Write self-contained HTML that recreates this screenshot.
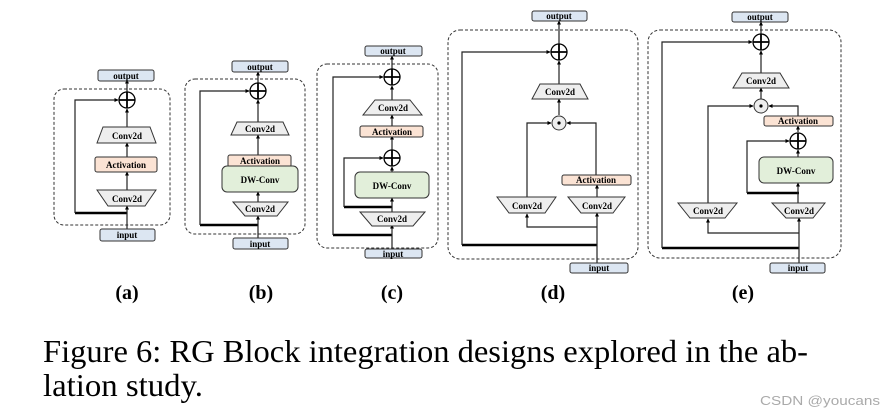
<!DOCTYPE html>
<html><head><meta charset="utf-8"><style>
html,body{margin:0;padding:0;background:#fff;width:885px;height:415px;overflow:hidden}
svg{display:block}
.l{font-family:"Liberation Serif",serif;font-weight:bold;font-size:9px;fill:#000;text-anchor:middle}
.io{fill:#dce6f2;stroke:#333;stroke-width:1}
.cv{fill:#eeeeee;stroke:#333;stroke-width:1}
.ac{fill:#fbe3d4;stroke:#333;stroke-width:1}
.dw{fill:#e2efda;stroke:#333;stroke-width:1}
.ln{stroke:#222;stroke-width:1.2;fill:none}
.th{stroke:#000;stroke-width:2.6;fill:none}
.ds{fill:none;stroke:#333;stroke-width:1;stroke-dasharray:3,2}
.cp{fill:#fff;stroke:#000;stroke-width:1.3}
.od{fill:#eee;stroke:#333;stroke-width:1}
</style></head><body>
<svg width="885" height="415" viewBox="0 0 885 415" xmlns="http://www.w3.org/2000/svg">
<defs><marker id="a" markerWidth="4" markerHeight="4" refX="3.5" refY="2" orient="auto" markerUnits="userSpaceOnUse"><path d="M0,0 L4,2 L0,4z" fill="#000"/></marker></defs>

<!-- (a) -->
<rect class="ds" x="54" y="89" width="116" height="136" rx="10"/>
<polyline class="th" points="127,213 75,213"/>
<polyline class="ln" points="75,213 75,100 118,100" marker-end="url(#a)"/>
<line class="ln" x1="127" y1="229" x2="127" y2="206" marker-end="url(#a)"/>
<line class="ln" x1="127" y1="190" x2="127" y2="172" marker-end="url(#a)"/>
<line class="ln" x1="127" y1="157" x2="127" y2="143" marker-end="url(#a)"/>
<line class="ln" x1="127" y1="127" x2="127" y2="109" marker-end="url(#a)"/>
<line class="ln" x1="127" y1="92" x2="127" y2="80" marker-end="url(#a)"/>
<rect class="io" x="98" y="70" width="56" height="11" rx="2"/><text class="l" x="126" y="79">output</text>
<circle class="cp" cx="127" cy="100" r="8"/><path d="M119,100H135M127,92V108" stroke="#000" stroke-width="1.8"/>
<polygon class="cv" points="103,127 150,127 156,143 97,143"/><text class="l" x="127" y="139">Conv2d</text>
<rect class="ac" x="95" y="157" width="62" height="15" rx="2"/><text class="l" x="126" y="168">Activation</text>
<polygon class="cv" points="97,190 156,190 145,206 108,206"/><text class="l" x="127" y="202">Conv2d</text>
<rect class="io" x="100" y="229" width="55" height="12" rx="2"/><text class="l" x="127" y="238">input</text>

<!-- (b) -->
<rect class="ds" x="185" y="79" width="120" height="155" rx="10"/>
<polyline class="th" points="258,225 200,225"/>
<polyline class="ln" points="200,225 200,91 249,91" marker-end="url(#a)"/>
<line class="ln" x1="258" y1="238" x2="258" y2="216" marker-end="url(#a)"/>
<line class="ln" x1="258" y1="202" x2="258" y2="192" marker-end="url(#a)"/>
<line class="ln" x1="258" y1="156" x2="258" y2="135" marker-end="url(#a)"/>
<line class="ln" x1="258" y1="123" x2="258" y2="100" marker-end="url(#a)"/>
<line class="ln" x1="258" y1="83" x2="258" y2="72" marker-end="url(#a)"/>
<rect class="io" x="232" y="61" width="56" height="11" rx="2"/><text class="l" x="260" y="70">output</text>
<circle class="cp" cx="258" cy="91" r="8"/><path d="M250,91H266M258,83V99" stroke="#000" stroke-width="1.8"/>
<polygon class="cv" points="237,122 283,122 289,135 231,135"/><text class="l" x="260" y="132">Conv2d</text>
<rect class="ac" x="228" y="155" width="63" height="12" rx="2"/><text class="l" x="260" y="164">Activation</text>
<rect class="dw" x="222" y="166" width="76" height="26" rx="5"/><text class="l" x="260" y="183">DW-Conv</text>
<polygon class="cv" points="233,202 288,202 277,216 245,216"/><text class="l" x="260" y="212">Conv2d</text>
<rect class="io" x="233" y="238" width="55" height="11" rx="2"/><text class="l" x="260" y="247">input</text>

<!-- (c) -->
<rect class="ds" x="317" y="64" width="121" height="184" rx="10"/>
<polyline class="th" points="392,235 333,235"/>
<polyline class="ln" points="333,235 333,77 383,77" marker-end="url(#a)"/>
<polyline class="th" points="392,207 344,207"/>
<polyline class="ln" points="344,207 344,158 383,158" marker-end="url(#a)"/>
<line class="ln" x1="392" y1="250" x2="392" y2="225" marker-end="url(#a)"/>
<line class="ln" x1="392" y1="212" x2="392" y2="198" marker-end="url(#a)"/>
<line class="ln" x1="392" y1="172" x2="392" y2="167" marker-end="url(#a)"/>
<line class="ln" x1="392" y1="150" x2="392" y2="136" marker-end="url(#a)"/>
<line class="ln" x1="392" y1="127" x2="392" y2="115" marker-end="url(#a)"/>
<line class="ln" x1="392" y1="100" x2="392" y2="86" marker-end="url(#a)"/>
<line class="ln" x1="392" y1="69" x2="392" y2="56" marker-end="url(#a)"/>
<rect class="io" x="365" y="46" width="57" height="10" rx="2"/><text class="l" x="393" y="54">output</text>
<circle class="cp" cx="392" cy="77" r="8"/><path d="M384,77H400M392,69V85" stroke="#000" stroke-width="1.8"/>
<polygon class="cv" points="375,100 410,100 422,115 363,115"/><text class="l" x="393" y="111">Conv2d</text>
<rect class="ac" x="360" y="126" width="63" height="11" rx="2"/><text class="l" x="392" y="135">Activation</text>
<circle class="cp" cx="392" cy="158" r="8"/><path d="M384,158H400M392,150V166" stroke="#000" stroke-width="1.8"/>
<rect class="dw" x="355" y="172" width="74" height="26" rx="5"/><text class="l" x="392" y="189">DW-Conv</text>
<polygon class="cv" points="360,212 425,212 413,226 372,226"/><text class="l" x="392" y="222">Conv2d</text>
<rect class="io" x="365" y="249" width="57" height="9" rx="2"/><text class="l" x="393" y="257">input</text>

<!-- (d) -->
<rect class="ds" x="448" y="30" width="190" height="229" rx="12"/>
<polyline class="th" points="597,245 462,245"/>
<polyline class="ln" points="462,245 462,52 550,52" marker-end="url(#a)"/>
<polyline class="ln" points="597,227 527,227 527,214" marker-end="url(#a)"/>
<line class="ln" x1="597" y1="263" x2="597" y2="213" marker-end="url(#a)"/>
<line class="ln" x1="597" y1="197" x2="597" y2="185" marker-end="url(#a)"/>
<polyline class="ln" points="596,175 596,123 567,123" marker-end="url(#a)"/>
<polyline class="ln" points="527,197 527,123 551,123" marker-end="url(#a)"/>
<line class="ln" x1="559" y1="115" x2="559" y2="99" marker-end="url(#a)"/>
<line class="ln" x1="559" y1="84" x2="559" y2="61" marker-end="url(#a)"/>
<line class="ln" x1="559" y1="44" x2="559" y2="21" marker-end="url(#a)"/>
<rect class="io" x="532" y="11" width="55" height="10" rx="2"/><text class="l" x="559" y="19">output</text>
<circle class="cp" cx="559" cy="52" r="8"/><path d="M551,52H567M559,44V60" stroke="#000" stroke-width="1.8"/>
<polygon class="cv" points="540,84 580,84 588,99 532,99"/><text class="l" x="560" y="95">Conv2d</text>
<circle class="od" cx="559" cy="123" r="7"/><circle cx="559" cy="123" r="1.6" fill="#000"/>
<rect class="ac" x="562" y="175" width="69" height="10" rx="2"/><text class="l" x="596" y="183">Activation</text>
<polygon class="cv" points="497,197 556,197 545,213 509,213"/><text class="l" x="527" y="209">Conv2d</text>
<polygon class="cv" points="568,197 625,197 613,213 581,213"/><text class="l" x="597" y="209">Conv2d</text>
<rect class="io" x="570" y="263" width="58" height="10" rx="2"/><text class="l" x="599" y="271">input</text>

<!-- (e) -->
<rect class="ds" x="648" y="30" width="193" height="228" rx="12"/>
<polyline class="th" points="799,248 662,248"/>
<polyline class="ln" points="662,248 662,42 752,42" marker-end="url(#a)"/>
<polyline class="ln" points="799,233 708,233 708,219" marker-end="url(#a)"/>
<line class="ln" x1="799" y1="263" x2="799" y2="218" marker-end="url(#a)"/>
<polyline class="th" points="799,193 747,193"/>
<polyline class="ln" points="747,193 747,141 789,141" marker-end="url(#a)"/>
<line class="ln" x1="798" y1="203" x2="798" y2="183" marker-end="url(#a)"/>
<line class="ln" x1="798" y1="157" x2="798" y2="150" marker-end="url(#a)"/>
<line class="ln" x1="798" y1="132" x2="798" y2="126" marker-end="url(#a)"/>
<polyline class="ln" points="798,116 798,106 769,106" marker-end="url(#a)"/>
<polyline class="ln" points="708,203 708,106 753,106" marker-end="url(#a)"/>
<line class="ln" x1="761" y1="99" x2="761" y2="88" marker-end="url(#a)"/>
<line class="ln" x1="761" y1="73" x2="761" y2="51" marker-end="url(#a)"/>
<line class="ln" x1="761" y1="34" x2="761" y2="22" marker-end="url(#a)"/>
<rect class="io" x="732" y="12" width="56" height="10" rx="2"/><text class="l" x="760" y="20">output</text>
<circle class="cp" cx="761" cy="42" r="8"/><path d="M753,42H769M761,34V50" stroke="#000" stroke-width="1.8"/>
<polygon class="cv" points="742,73 780,73 789,88 733,88"/><text class="l" x="761" y="84">Conv2d</text>
<circle class="od" cx="761" cy="106" r="7"/><circle cx="761" cy="106" r="1.6" fill="#000"/>
<rect class="ac" x="764" y="116" width="69" height="10" rx="2"/><text class="l" x="798" y="124">Activation</text>
<circle class="cp" cx="798" cy="141" r="8"/><path d="M790,141H806M798,133V149" stroke="#000" stroke-width="1.8"/>
<rect class="dw" x="759" y="157" width="74" height="26" rx="5"/><text class="l" x="796" y="174">DW-Conv</text>
<polygon class="cv" points="678,203 737,203 725,218 690,218"/><text class="l" x="708" y="214">Conv2d</text>
<polygon class="cv" points="772,203 825,203 813,218 786,218"/><text class="l" x="799" y="214">Conv2d</text>
<rect class="io" x="770" y="263" width="55" height="10" rx="2"/><text class="l" x="798" y="271">input</text>

<!-- labels -->
<g font-family="Liberation Serif,serif" font-weight="bold" font-size="20" text-anchor="middle">
<text x="127" y="299">(a)</text><text x="261" y="299">(b)</text><text x="392" y="299">(c)</text><text x="553" y="299">(d)</text><text x="743" y="299">(e)</text>
</g>
<g font-family="Liberation Serif,serif" font-size="32">
<text x="43" y="362" textLength="765" lengthAdjust="spacingAndGlyphs">Figure 6: RG Block integration designs explored in the ab-</text>
<text x="43" y="396" textLength="160" lengthAdjust="spacingAndGlyphs">lation study.</text>
</g>
<text x="760" y="405" font-family="Liberation Sans,sans-serif" font-size="13" fill="#aaa" textLength="120" lengthAdjust="spacingAndGlyphs">CSDN @youcans</text>
</svg>
</body></html>
